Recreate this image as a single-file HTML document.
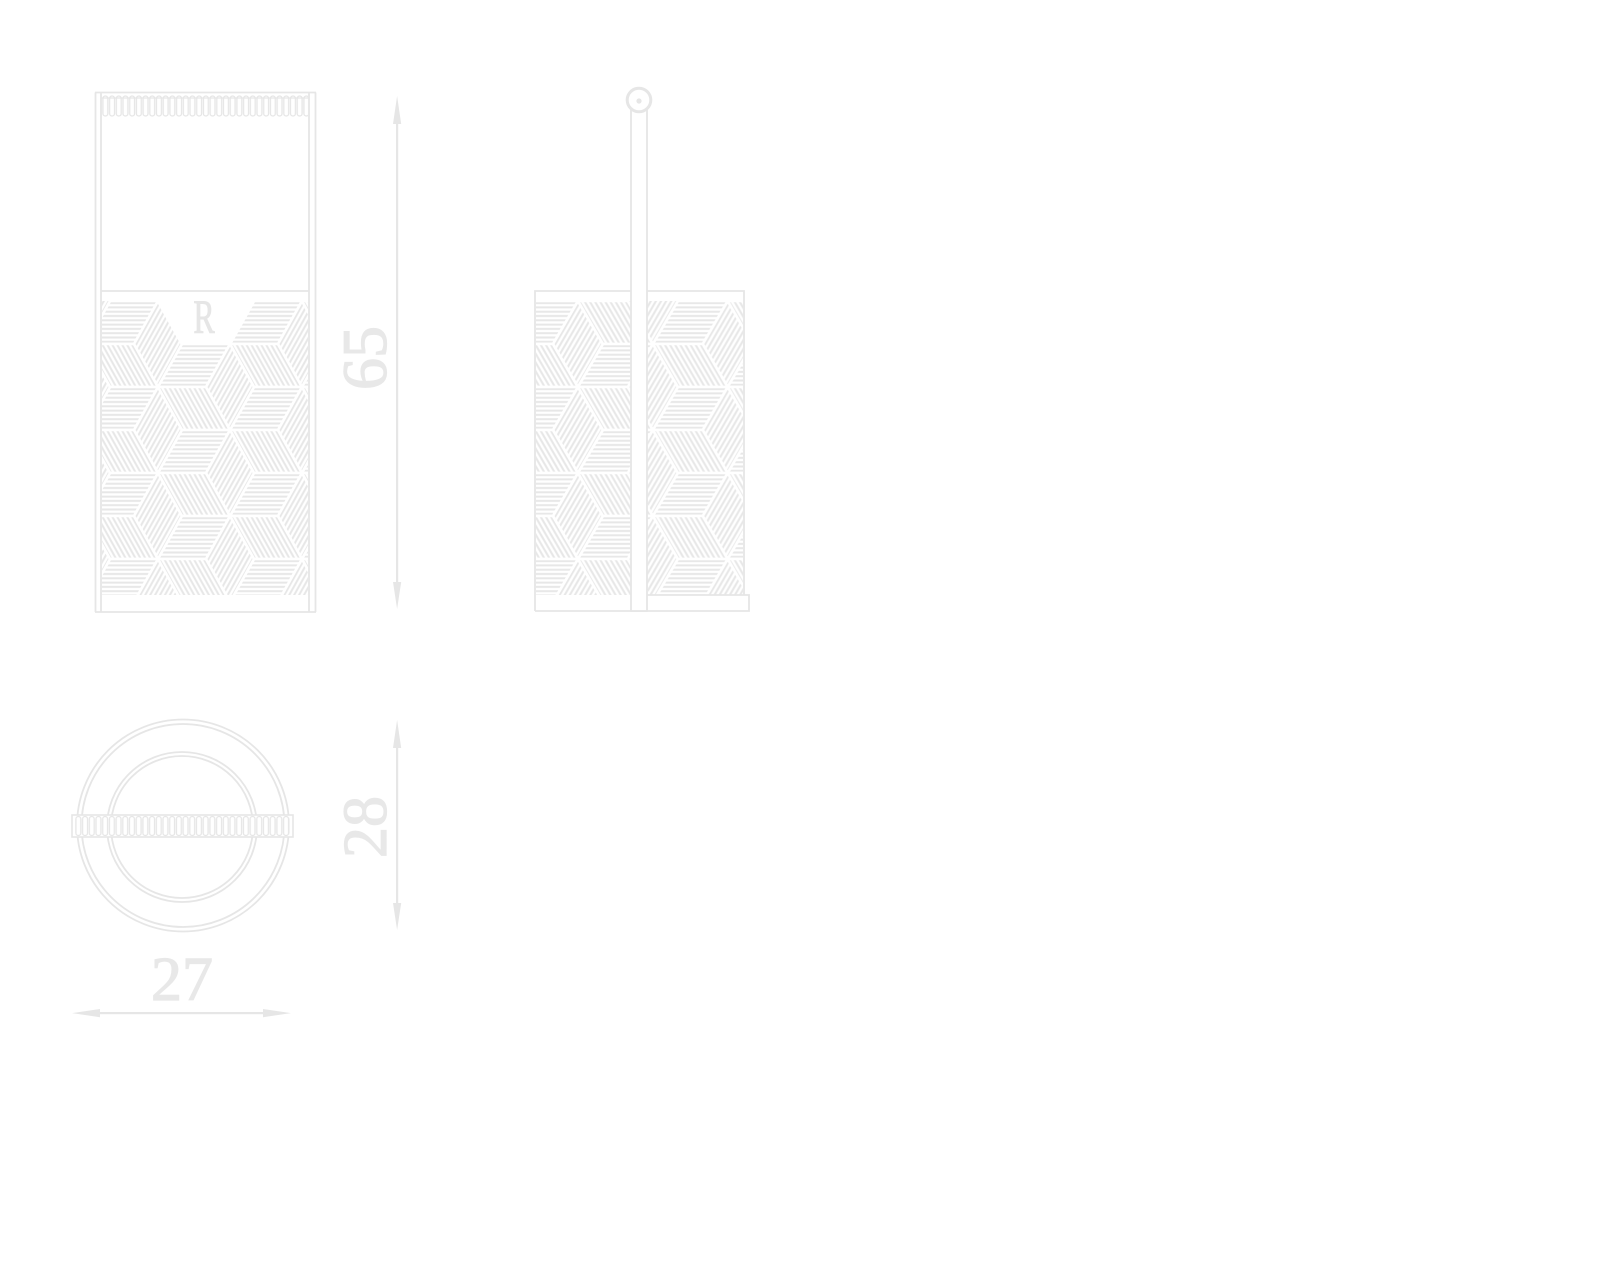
<!DOCTYPE html>
<html>
<head>
<meta charset="utf-8">
<style>
html,body{margin:0;padding:0;background:#ffffff;}
svg{display:block;}
</style>
</head>
<body>
<svg width="1600" height="1280" viewBox="0 0 1600 1280" xmlns="http://www.w3.org/2000/svg" xmlns:xlink="http://www.w3.org/1999/xlink">
<defs>
  <pattern id="hh" patternUnits="userSpaceOnUse" width="40" height="4.3">
    <rect x="0" y="1.1" width="40" height="2" fill="#e7e7e7"/>
  </pattern>
  <pattern id="hb" patternUnits="userSpaceOnUse" width="40" height="4.3" patternTransform="rotate(60.8)">
    <rect x="0" y="1.1" width="40" height="2" fill="#e7e7e7"/>
  </pattern>
  <pattern id="hr" patternUnits="userSpaceOnUse" width="40" height="4.3" patternTransform="rotate(-60.8)">
    <rect x="0" y="1.1" width="40" height="2" fill="#e7e7e7"/>
  </pattern>

  <g id="cube">
    <polygon points="0,0 24,-43 -24,-43 -48,0" fill="url(#hh)" stroke="#ffffff" stroke-width="2.6"/>
    <polygon points="0,0 -48,0 -24,43 24,43" fill="url(#hb)" stroke="#ffffff" stroke-width="2.6"/>
    <polygon points="0,0 24,43 48,0 24,-43" fill="url(#hr)" stroke="#ffffff" stroke-width="2.6"/>
  </g>

  <pattern id="tb" patternUnits="userSpaceOnUse" x="134" y="344" width="144" height="86">
    <use xlink:href="#cube" href="#cube" x="0" y="0"/>
    <use xlink:href="#cube" href="#cube" x="144" y="0"/>
    <use xlink:href="#cube" href="#cube" x="0" y="86"/>
    <use xlink:href="#cube" href="#cube" x="144" y="86"/>
    <use xlink:href="#cube" href="#cube" x="-72" y="-43"/>
    <use xlink:href="#cube" href="#cube" x="72" y="-43"/>
    <use xlink:href="#cube" href="#cube" x="216" y="-43"/>
    <use xlink:href="#cube" href="#cube" x="-72" y="43"/>
    <use xlink:href="#cube" href="#cube" x="72" y="43"/>
    <use xlink:href="#cube" href="#cube" x="216" y="43"/>
    <use xlink:href="#cube" href="#cube" x="-72" y="129"/>
    <use xlink:href="#cube" href="#cube" x="72" y="129"/>
    <use xlink:href="#cube" href="#cube" x="216" y="129"/>
  </pattern>

  <pattern id="tb2" patternUnits="userSpaceOnUse" x="0" y="0" width="144" height="86" patternTransform="translate(553,344) scale(1.04,1)">
    <use xlink:href="#cube" href="#cube" x="0" y="0"/>
    <use xlink:href="#cube" href="#cube" x="144" y="0"/>
    <use xlink:href="#cube" href="#cube" x="0" y="86"/>
    <use xlink:href="#cube" href="#cube" x="144" y="86"/>
    <use xlink:href="#cube" href="#cube" x="-72" y="-43"/>
    <use xlink:href="#cube" href="#cube" x="72" y="-43"/>
    <use xlink:href="#cube" href="#cube" x="216" y="-43"/>
    <use xlink:href="#cube" href="#cube" x="-72" y="43"/>
    <use xlink:href="#cube" href="#cube" x="72" y="43"/>
    <use xlink:href="#cube" href="#cube" x="216" y="43"/>
    <use xlink:href="#cube" href="#cube" x="-72" y="129"/>
    <use xlink:href="#cube" href="#cube" x="72" y="129"/>
    <use xlink:href="#cube" href="#cube" x="216" y="129"/>
  </pattern>

  <pattern id="tooth" patternUnits="userSpaceOnUse" x="102" y="95" width="6.7" height="40">
    <rect x="0.9" y="1" width="4.9" height="20" rx="2.4" fill="none" stroke="#e6e6e6" stroke-width="1.3"/>
  </pattern>
  <pattern id="tooth2" patternUnits="userSpaceOnUse" x="75" y="815" width="6.7" height="40">
    <rect x="0.9" y="1.5" width="4.9" height="19" rx="2.4" fill="none" stroke="#e6e6e6" stroke-width="1.3"/>
  </pattern>
</defs>

<rect x="0" y="0" width="1600" height="1280" fill="#ffffff"/>

<!-- ============ FRONT VIEW ============ -->
<rect x="102" y="301" width="206" height="294" fill="url(#tb)"/>
<polygon points="156,300 256,300 231,345 181,345" fill="#ffffff"/>
<text x="0" y="0" transform="translate(204,333) scale(1,1.48)" text-anchor="middle" font-family="'Liberation Serif', serif" font-size="32" fill="#e6e6e6" stroke="#e6e6e6" stroke-width="0.6">R</text>

<rect x="102" y="95" width="206" height="22" fill="url(#tooth)"/>

<g fill="none" stroke="#e6e6e6" stroke-width="1.8">
  <line x1="95.5" y1="92.5" x2="95.5" y2="612"/>
  <line x1="101" y1="92.5" x2="101" y2="612"/>
  <line x1="309" y1="92.5" x2="309" y2="612"/>
  <line x1="315.5" y1="92.5" x2="315.5" y2="612"/>
  <line x1="95" y1="92.5" x2="316" y2="92.5"/>
  <line x1="95" y1="612" x2="316" y2="612"/>
  <line x1="101" y1="291" x2="309" y2="291"/>
  <line x1="101" y1="98" x2="309" y2="98" stroke-width="1.2"/>
</g>

<!-- 65 dimension -->
<g fill="#e6e6e6" stroke="none">
  <rect x="396" y="110" width="2.2" height="485"/>
  <polygon points="397.1,96 393,124 401.2,124"/>
  <polygon points="397.1,609 393,582 401.2,582"/>
</g>
<text x="0" y="0" transform="translate(386,358) rotate(-90)" text-anchor="middle" font-family="'Liberation Serif', serif" font-size="64" fill="#e8e8e8" stroke="#e8e8e8" stroke-width="1.2">65</text>

<!-- ============ SIDE VIEW ============ -->
<rect x="536" y="301" width="207" height="294" fill="url(#tb2)"/>
<g fill="none" stroke="#e6e6e6" stroke-width="1.8">
  <polyline points="744,595 744,291 535,291 535,611"/>
  <polyline points="647,595 749,595 749,611 535,611"/>
</g>
<rect x="631" y="109" width="16" height="502" fill="#ffffff" stroke="#e6e6e6" stroke-width="1.8"/>
<circle cx="639" cy="100" r="11.8" fill="#ffffff" stroke="#e6e6e6" stroke-width="3"/>
<circle cx="639" cy="101" r="2.6" fill="#e6e6e6" stroke="none"/>

<!-- ============ BOTTOM VIEW ============ -->
<g fill="none" stroke="#e6e6e6" stroke-width="1.8">
  <circle cx="183" cy="825.5" r="106"/>
  <circle cx="183" cy="825.5" r="101.5"/>
  <circle cx="182" cy="827" r="75"/>
  <circle cx="182" cy="827" r="71"/>
</g>
<rect x="72" y="815" width="221" height="22" fill="#ffffff" stroke="#e6e6e6" stroke-width="1.6"/>
<rect x="75" y="815" width="215" height="22" fill="url(#tooth2)"/>

<!-- 28 dimension -->
<g fill="#e6e6e6" stroke="none">
  <rect x="396" y="735" width="2.2" height="180"/>
  <polygon points="397.1,720 393,748 401.2,748"/>
  <polygon points="397.1,930 393,903 401.2,903"/>
</g>
<text x="0" y="0" transform="translate(386,827) rotate(-90)" text-anchor="middle" font-family="'Liberation Serif', serif" font-size="62" fill="#e8e8e8" stroke="#e8e8e8" stroke-width="1.2">28</text>

<!-- 27 dimension -->
<text x="182" y="1000" text-anchor="middle" font-family="'Liberation Serif', serif" font-size="62" fill="#e8e8e8" stroke="#e8e8e8" stroke-width="1.2">27</text>
<g fill="#e6e6e6" stroke="none">
  <rect x="86" y="1012" width="192" height="2.2"/>
  <polygon points="72,1013.1 100,1009 100,1017.2"/>
  <polygon points="291,1013.1 263,1009 263,1017.2"/>
</g>
</svg>
</body>
</html>
